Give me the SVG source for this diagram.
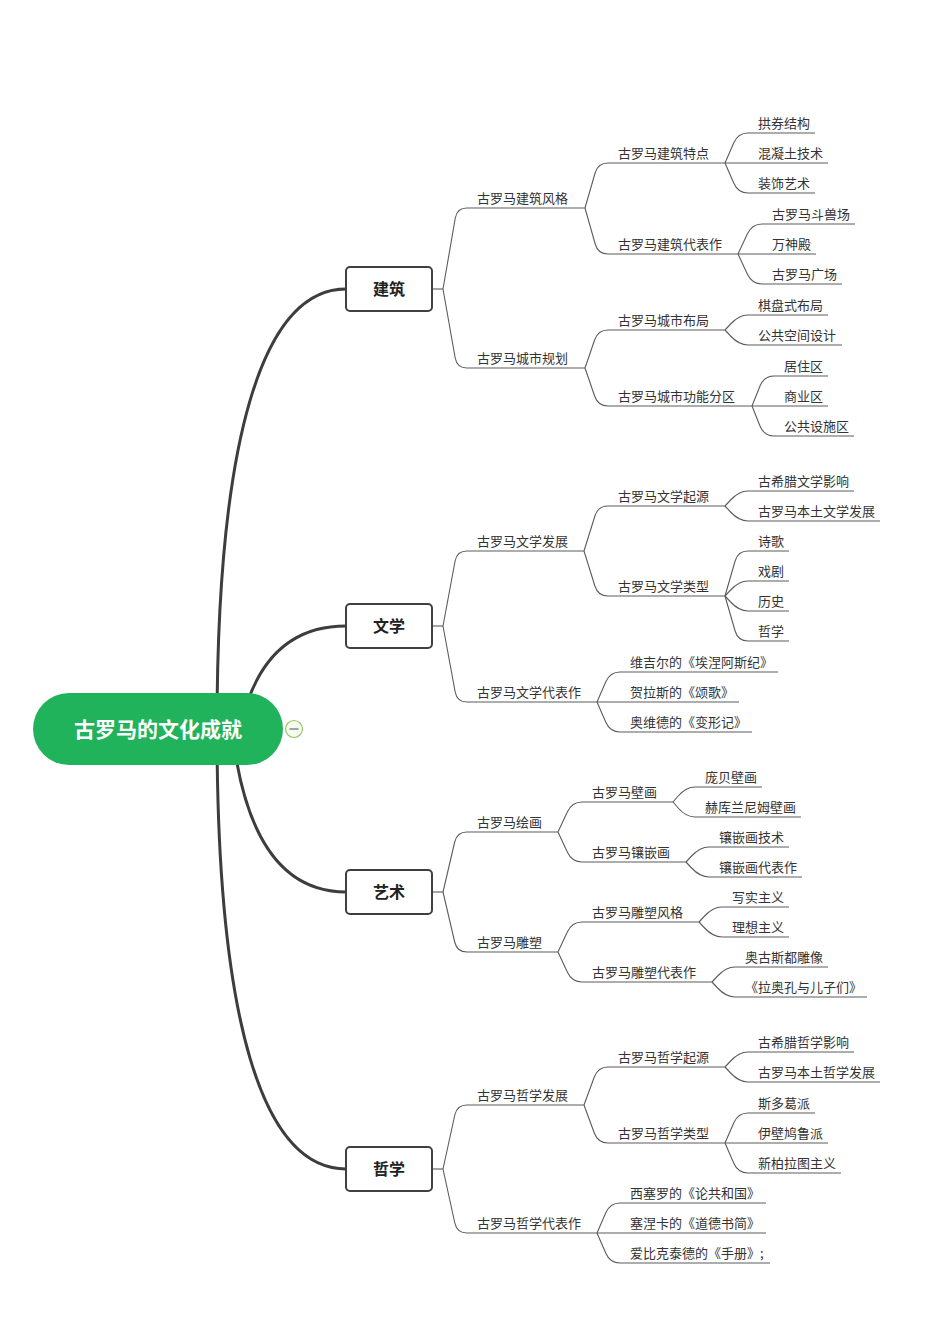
<svg xmlns="http://www.w3.org/2000/svg" width="944" height="1327" viewBox="0 0 944 1327">
<style>
.bg{fill:#ffffff}
.main{fill:none;stroke:#3d3d3d;stroke-width:3;stroke-linecap:round}
.sub{fill:none;stroke:#5c5c5c;stroke-width:1.1}
.box{fill:#ffffff;stroke:#404040;stroke-width:2}
.bt{font-family:"Noto Sans CJK SC","Noto Sans",sans-serif;font-size:16px;font-weight:bold;fill:#222;text-anchor:middle}
.t{font-family:"Noto Sans CJK SC","Noto Sans",sans-serif;font-size:13px;fill:#333}
.root{fill:#20b35b}
.rt{font-family:"Noto Sans CJK SC","Noto Sans",sans-serif;font-size:21px;font-weight:bold;fill:#ffffff;text-anchor:middle}
</style>
<rect class="bg" x="0" y="0" width="944" height="1327"/>
<g id="connectors">
<path class="main" d="M217 729 C217 440 262 289 346 289"/>
<path class="main" d="M240 729 Q262 626 346 626"/>
<path class="main" d="M232 729 Q250 892 346 892"/>
<path class="main" d="M217 729 C217 1020 262 1169 346 1169"/>
<path class="sub" d="M432 289 H443"/>
<path class="sub" d="M443 289 L455.3 218 Q457 208 467 208 H585"/>
<path class="sub" d="M443 289 L455.2 358 Q457 368 467 368 H585"/>
<path class="sub" d="M585 208 L595.1 173 Q598 163 608 163 H725"/>
<path class="sub" d="M585 208 L595.2 244 Q598 254 608 254 H738"/>
<path class="sub" d="M725 163 L733.7 143 Q738 133 748 133 H815"/>
<path class="sub" d="M725 163 H828"/>
<path class="sub" d="M725 163 L733.7 183 Q738 193 748 193 H815"/>
<path class="sub" d="M738 254 L747.3 234 Q752 224 762 224 H855"/>
<path class="sub" d="M738 254 H816"/>
<path class="sub" d="M738 254 L747.3 274 Q752 284 762 284 H842"/>
<path class="sub" d="M585 368 L594.6 340 Q598 330 608 330 H725"/>
<path class="sub" d="M585 368 L594.6 396 Q598 406 608 406 H752"/>
<path class="sub" d="M725 330 L730.6 324 Q739 315 748 315 H828"/>
<path class="sub" d="M725 330 L730.6 336 Q739 345 748 345 H842"/>
<path class="sub" d="M752 406 L760 386 Q764 376 774 376 H828"/>
<path class="sub" d="M752 406 H828"/>
<path class="sub" d="M752 406 L760 426 Q764 436 774 436 H854"/>
<path class="sub" d="M432 626 H443"/>
<path class="sub" d="M443 626 L455.1 561 Q457 551 467 551 H584"/>
<path class="sub" d="M443 626 L455.2 692 Q457 702 467 702 H597"/>
<path class="sub" d="M584 551 L594.9 516 Q598 506 608 506 H725"/>
<path class="sub" d="M584 551 L594.9 586 Q598 596 608 596 H725"/>
<path class="sub" d="M725 506 L730.6 500 Q739 491 748 491 H854"/>
<path class="sub" d="M725 506 L730.6 512 Q739 521 748 521 H880"/>
<path class="sub" d="M725 596 L735.1 561 Q738 551 748 551 H789"/>
<path class="sub" d="M725 596 L730.6 590 Q739 581 748 581 H789"/>
<path class="sub" d="M725 596 L730.6 602 Q739 611 748 611 H789"/>
<path class="sub" d="M725 596 L735.1 631 Q738 641 748 641 H789"/>
<path class="sub" d="M597 702 L605.7 682 Q610 672 620 672 H778"/>
<path class="sub" d="M597 702 H739"/>
<path class="sub" d="M597 702 L605.7 722 Q610 732 620 732 H752"/>
<path class="sub" d="M432 892 H443"/>
<path class="sub" d="M443 892 L454.7 842 Q457 832 467 832 H558"/>
<path class="sub" d="M443 892 L454.7 942 Q457 952 467 952 H558"/>
<path class="sub" d="M558 832 L567.3 812 Q572 802 582 802 H673"/>
<path class="sub" d="M558 832 L567.3 852 Q572 862 582 862 H686"/>
<path class="sub" d="M673 802 L678.2 796 Q686 787 695 787 H762"/>
<path class="sub" d="M673 802 L678.2 808 Q686 817 695 817 H801"/>
<path class="sub" d="M686 862 L691.6 856 Q700 847 709 847 H789"/>
<path class="sub" d="M686 862 L691.6 868 Q700 877 709 877 H802"/>
<path class="sub" d="M558 952 L567.3 932 Q572 922 582 922 H699"/>
<path class="sub" d="M558 952 L567.3 972 Q572 982 582 982 H712"/>
<path class="sub" d="M699 922 L704.6 916 Q713 907 722 907 H789"/>
<path class="sub" d="M699 922 L704.6 928 Q713 937 722 937 H789"/>
<path class="sub" d="M712 982 L717.6 976 Q726 967 735 967 H828"/>
<path class="sub" d="M712 982 L717.6 988 Q726 997 735 997 H867"/>
<path class="sub" d="M432 1169 H443"/>
<path class="sub" d="M443 1169 L454.8 1115 Q457 1105 467 1105 H584"/>
<path class="sub" d="M443 1169 L454.8 1223 Q457 1233 467 1233 H597"/>
<path class="sub" d="M584 1105 L594.3 1077 Q598 1067 608 1067 H725"/>
<path class="sub" d="M584 1105 L594.3 1133 Q598 1143 608 1143 H725"/>
<path class="sub" d="M725 1067 L730.6 1061 Q739 1052 748 1052 H854"/>
<path class="sub" d="M725 1067 L730.6 1073 Q739 1082 748 1082 H880"/>
<path class="sub" d="M725 1143 L733.7 1123 Q738 1113 748 1113 H815"/>
<path class="sub" d="M725 1143 H828"/>
<path class="sub" d="M725 1143 L733.7 1163 Q738 1173 748 1173 H841"/>
<path class="sub" d="M597 1233 L605.7 1213 Q610 1203 620 1203 H766"/>
<path class="sub" d="M597 1233 H766"/>
<path class="sub" d="M597 1233 L605.7 1253 Q610 1263 620 1263 H770"/>
</g>
<g id="root">
<rect class="root" x="33" y="693" width="250" height="72" rx="36"/>
<text class="rt" x="158" y="737">古罗马的文化成就</text>
<circle cx="294" cy="729" r="8.5" fill="#f6fbef" stroke="#9cc36a" stroke-width="1.2"/>
<path d="M289.5 729 H298.5" stroke="#6b6b6b" stroke-width="1.2"/>
</g>
<g id="n-jianzhu"><rect class="box" x="346" y="267" width="86" height="44" rx="4"/><text class="bt" x="389" y="295">建筑</text></g>
<g id="n-wenxue"><rect class="box" x="346" y="604" width="86" height="44" rx="4"/><text class="bt" x="389" y="632">文学</text></g>
<g id="n-yishu"><rect class="box" x="346" y="870" width="86" height="44" rx="4"/><text class="bt" x="389" y="898">艺术</text></g>
<g id="n-zhexue"><rect class="box" x="346" y="1147" width="86" height="44" rx="4"/><text class="bt" x="389" y="1175">哲学</text></g>
<g id="jianzhu-children">
<g id="n-a1"><text class="t" x="477" y="203">古罗马建筑风格</text></g>
<g id="n-a11"><text class="t" x="618" y="158">古罗马建筑特点</text></g>
<g id="n-a111"><text class="t" x="758" y="128">拱券结构</text></g>
<g id="n-a112"><text class="t" x="758" y="158">混凝土技术</text></g>
<g id="n-a113"><text class="t" x="758" y="188">装饰艺术</text></g>
<g id="n-a12"><text class="t" x="618" y="249">古罗马建筑代表作</text></g>
<g id="n-a121"><text class="t" x="772" y="219">古罗马斗兽场</text></g>
<g id="n-a122"><text class="t" x="772" y="249">万神殿</text></g>
<g id="n-a123"><text class="t" x="772" y="279">古罗马广场</text></g>
<g id="n-a2"><text class="t" x="477" y="363">古罗马城市规划</text></g>
<g id="n-a21"><text class="t" x="618" y="325">古罗马城市布局</text></g>
<g id="n-a211"><text class="t" x="758" y="310">棋盘式布局</text></g>
<g id="n-a212"><text class="t" x="758" y="340">公共空间设计</text></g>
<g id="n-a22"><text class="t" x="618" y="401">古罗马城市功能分区</text></g>
<g id="n-a221"><text class="t" x="784" y="371">居住区</text></g>
<g id="n-a222"><text class="t" x="784" y="401">商业区</text></g>
<g id="n-a223"><text class="t" x="784" y="431">公共设施区</text></g>
</g>
<g id="wenxue-children">
<g id="n-b1"><text class="t" x="477" y="546">古罗马文学发展</text></g>
<g id="n-b11"><text class="t" x="618" y="501">古罗马文学起源</text></g>
<g id="n-b111"><text class="t" x="758" y="486">古希腊文学影响</text></g>
<g id="n-b112"><text class="t" x="758" y="516">古罗马本土文学发展</text></g>
<g id="n-b12"><text class="t" x="618" y="591">古罗马文学类型</text></g>
<g id="n-b121"><text class="t" x="758" y="546">诗歌</text></g>
<g id="n-b122"><text class="t" x="758" y="576">戏剧</text></g>
<g id="n-b123"><text class="t" x="758" y="606">历史</text></g>
<g id="n-b124"><text class="t" x="758" y="636">哲学</text></g>
<g id="n-b2"><text class="t" x="477" y="697">古罗马文学代表作</text></g>
<g id="n-b21"><text class="t" x="630" y="667">维吉尔的《埃涅阿斯纪》</text></g>
<g id="n-b22"><text class="t" x="630" y="697">贺拉斯的《颂歌》</text></g>
<g id="n-b23"><text class="t" x="630" y="727">奥维德的《变形记》</text></g>
</g>
<g id="yishu-children">
<g id="n-c1"><text class="t" x="477" y="827">古罗马绘画</text></g>
<g id="n-c11"><text class="t" x="592" y="797">古罗马壁画</text></g>
<g id="n-c111"><text class="t" x="705" y="782">庞贝壁画</text></g>
<g id="n-c112"><text class="t" x="705" y="812">赫库兰尼姆壁画</text></g>
<g id="n-c12"><text class="t" x="592" y="857">古罗马镶嵌画</text></g>
<g id="n-c121"><text class="t" x="719" y="842">镶嵌画技术</text></g>
<g id="n-c122"><text class="t" x="719" y="872">镶嵌画代表作</text></g>
<g id="n-c2"><text class="t" x="477" y="947">古罗马雕塑</text></g>
<g id="n-c21"><text class="t" x="592" y="917">古罗马雕塑风格</text></g>
<g id="n-c211"><text class="t" x="732" y="902">写实主义</text></g>
<g id="n-c212"><text class="t" x="732" y="932">理想主义</text></g>
<g id="n-c22"><text class="t" x="592" y="977">古罗马雕塑代表作</text></g>
<g id="n-c221"><text class="t" x="745" y="962">奥古斯都雕像</text></g>
<g id="n-c222"><text class="t" x="745" y="992">《拉奥孔与儿子们》</text></g>
</g>
<g id="zhexue-children">
<g id="n-d1"><text class="t" x="477" y="1100">古罗马哲学发展</text></g>
<g id="n-d11"><text class="t" x="618" y="1062">古罗马哲学起源</text></g>
<g id="n-d111"><text class="t" x="758" y="1047">古希腊哲学影响</text></g>
<g id="n-d112"><text class="t" x="758" y="1077">古罗马本土哲学发展</text></g>
<g id="n-d12"><text class="t" x="618" y="1138">古罗马哲学类型</text></g>
<g id="n-d121"><text class="t" x="758" y="1108">斯多葛派</text></g>
<g id="n-d122"><text class="t" x="758" y="1138">伊壁鸠鲁派</text></g>
<g id="n-d123"><text class="t" x="758" y="1168">新柏拉图主义</text></g>
<g id="n-d2"><text class="t" x="477" y="1228">古罗马哲学代表作</text></g>
<g id="n-d21"><text class="t" x="630" y="1198">西塞罗的《论共和国》</text></g>
<g id="n-d22"><text class="t" x="630" y="1228">塞涅卡的《道德书简》</text></g>
<g id="n-d23"><text class="t" x="630" y="1258">爱比克泰德的《手册》;</text></g>
</g>
</svg>
